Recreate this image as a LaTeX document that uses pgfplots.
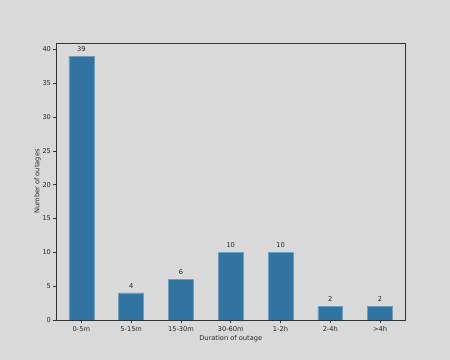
\documentclass[border=0pt]{standalone}
\usepackage{pgfplots}
\pgfplotsset{compat=1.18}
\usepackage{fontspec}
\setmainfont{DejaVu Sans}
\definecolor{bg}{HTML}{D9D9D9}
\definecolor{barblue}{HTML}{3274A1}
\begin{document}
\begin{tikzpicture}[x=0.75pt,y=0.75pt]
\fill[bg] (0,0) rectangle (450,360);
\begin{axis}[
  at={(56.5*0.75pt,40*0.75pt)}, anchor=south west,
  scale only axis, width=348.5*0.75pt, height=277*0.75pt,
  xmin=-0.5, xmax=6.5, ymin=0, ymax=40.95,
  xtick={0,...,6},
  xticklabels={0-5m,5-15m,15-30m,30-60m,1-2h,2-4h,>4h},
  ytick={0,5,...,40},
  xtick pos=lower, ytick pos=left,
  tick align=outside, major tick length=2.6pt,
  tick style={black!80, line width=0.5pt},
  axis line style={black!80, line width=0.6pt},
  axis background/.style={fill=bg},
  tick label style={font=\fontsize{5}{6}\selectfont, text=black!85},
  yticklabel style={xshift=2pt},
  xticklabel style={yshift=1.5pt},
  /pgf/number format/assume math mode=true,
  label style={font=\fontsize{5}{6}\selectfont, text=black!85},
  xlabel={Duration of outage}, ylabel={Number of outages},
  xlabel style={yshift=4pt},
  ylabel style={yshift=-5.5pt},
  ybar, bar width=0.5,
  nodes near coords,
  every node near coord/.append style={font=\fontsize{5}{6}\selectfont, text=black!85, yshift=0pt},
]
\addplot[fill=barblue, draw=barblue!70!white, line width=0.4pt] coordinates {(0,39) (1,4) (2,6) (3,10) (4,10) (5,2) (6,2)};
\end{axis}
\end{tikzpicture}
\end{document}
